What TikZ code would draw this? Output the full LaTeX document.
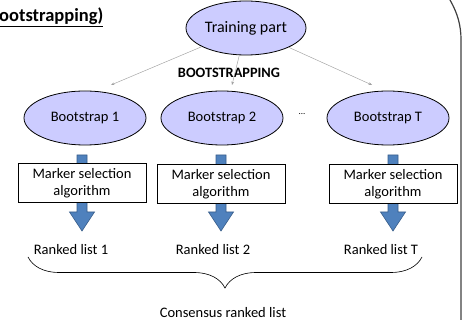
\documentclass[tikz,border=0pt]{standalone}
\usepackage{fontspec}
\setmainfont{Carlito}
\usetikzlibrary{arrows.meta,positioning,shapes.geometric,decorations.pathreplacing}
\definecolor{lav}{HTML}{CCCCFF}
\definecolor{blkblue}{HTML}{4F81BD}
\definecolor{blkedge}{HTML}{385D8A}

\begin{document}
\begin{tikzpicture}[
  x=1pt, y=-1pt,
  font=\fontsize{14.5}{17}\selectfont,
  bubble/.style={draw, ellipse, fill=lav, line width=0.8pt, minimum width=122pt, minimum height=54pt, inner sep=0pt},
  algbox/.style={draw, fill=white, align=center, line width=0.8pt, minimum width=128pt, minimum height=39pt, inner sep=1pt},
  plain/.style={inner sep=0pt, anchor=base},
  thinarrow/.style={-{Stealth[length=3.5pt,width=2.8pt]}, gray!75, line width=0.45pt},
  blockarrow/.style={fill=blkblue, draw=blkedge, line width=0.6pt}
]
\useasboundingbox (0,0) rectangle (463,320);

\node[font=\fontsize{18.5}{20}\selectfont\bfseries, anchor=base west, inner sep=0pt] (title) at (-1,22) {\underline{ootstrapping)}};

\node[bubble, minimum width=120pt, font=\fontsize{16}{18}\selectfont] (train) at (246,28) {Training part};
\node[font=\fontsize{14.3}{16}\selectfont\bfseries] (bootlbl) at (229,73) {BOOTSTRAPPING};

\node[bubble] (boot1) at (85,118) {Bootstrap 1};
\node[bubble] (boot2) at (222,118) {Bootstrap 2};
\node[bubble] (bootT) at (388,118) {Bootstrap T};
\node (dots) at (302,114) {\fontsize{9}{10}\selectfont...};

\coordinate (in1) at (111,85);
\coordinate (in2) at (232,85);
\coordinate (inT) at (372,85);
\draw[thinarrow] (train) -- (in1);
\draw[thinarrow] (train) -- (in2);
\draw[thinarrow] (train) -- (inT);

% block arrows, boxes go on top
\foreach \x in {82,221,393}
  \draw[blockarrow] (\x-5,155) -- (\x+5,155) -- (\x+5,212) -- (\x+12.5,212)
    -- (\x,231) -- (\x-12.5,212) -- (\x-5,212) -- cycle;

\node[algbox] (alg1) at (82,183) {Marker selection\\algorithm};
\node[algbox] (alg2) at (221,184) {Marker selection\\algorithm};
\node[algbox] (algT) at (393,184) {Marker selection\\algorithm};

\node[plain] (rank1) at (71,255) {Ranked list 1};
\node[plain] (rank2) at (213,255) {Ranked list 2};
\node[plain] (rankT) at (381,255) {Ranked list T};

\coordinate (brl) at (28,257);
\coordinate (brr) at (422,257);
\draw[decorate, decoration={brace, mirror, amplitude=31pt}, line width=0.6pt] (brl) -- (brr);

\node[plain] (cons) at (223,317) {Consensus ranked list};

\draw[line width=1.2pt, black!75] (450,0) .. controls (458,14) and (461,26) .. (461,40) -- (461,320);
\end{tikzpicture}
\end{document}
